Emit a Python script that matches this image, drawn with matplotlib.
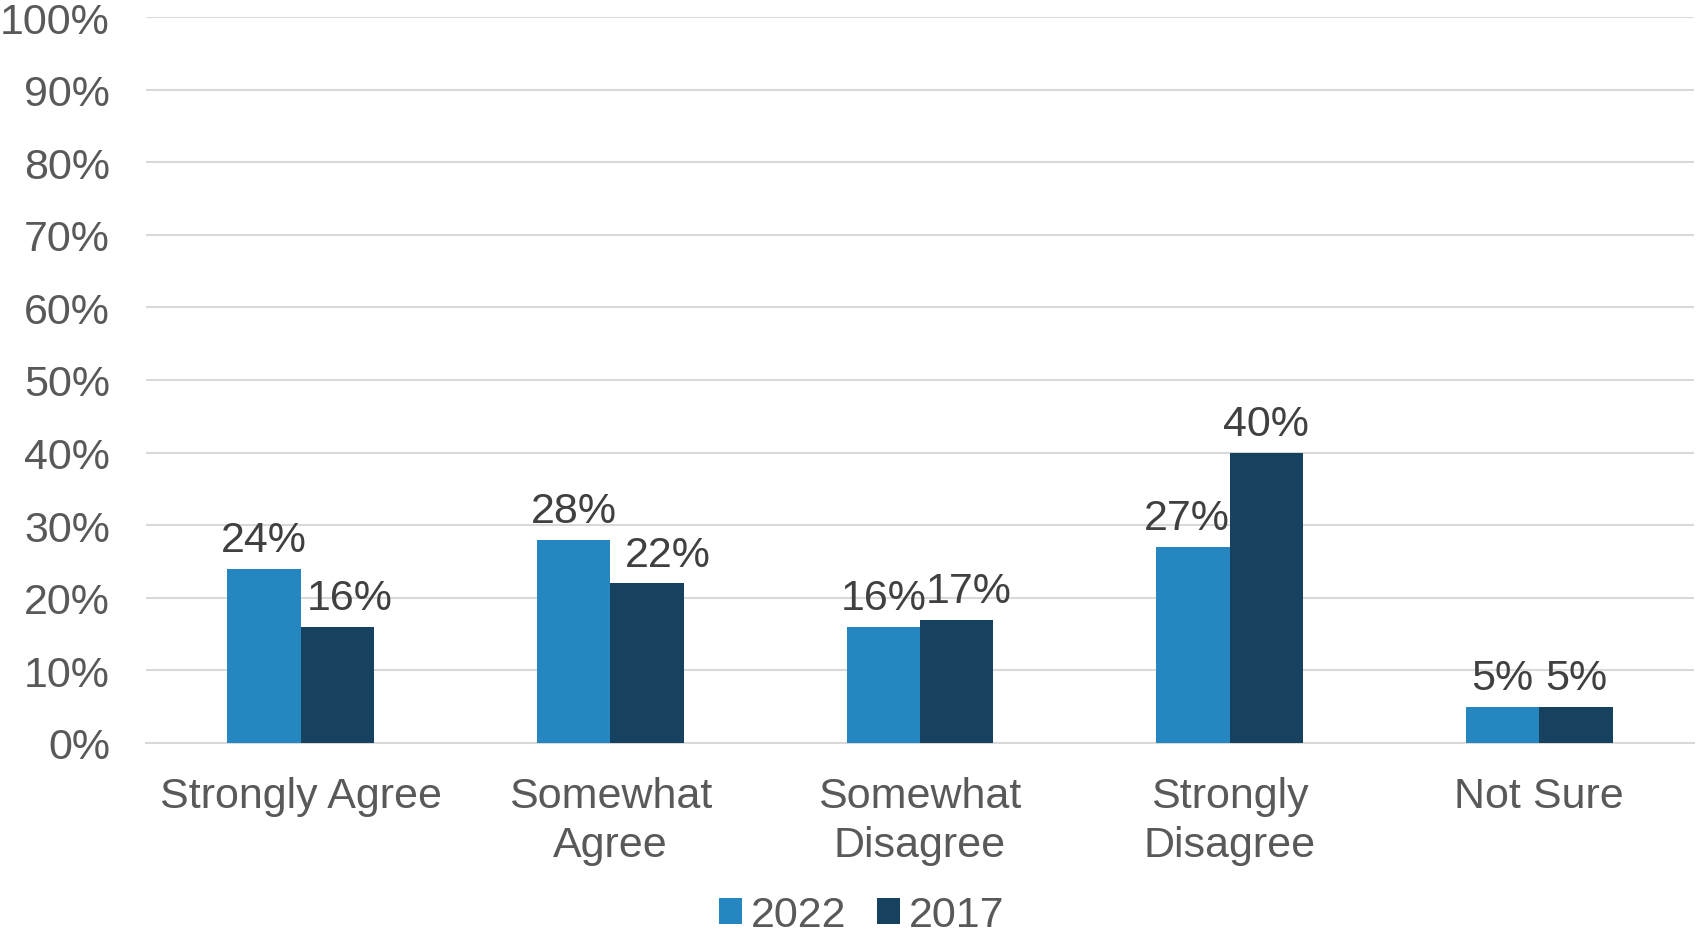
import matplotlib.pyplot as plt
import numpy as np

plt.rcParams['font.family'] = ['Liberation Sans', 'DejaVu Sans']

categories = ['Strongly Agree', 'Somewhat\nAgree', 'Somewhat\nDisagree', 'Strongly\nDisagree', 'Not Sure']
vals_2022 = [24, 28, 16, 27, 5]
vals_2017 = [16, 22, 17, 40, 5]
series_names = ['2022', '2017']
colors = ['#2586C0', '#16415F']

# small horizontal nudges of the data labels (as in the original, to avoid overlap)
nudge_2022 = [0, 0, 0, -0.02, 0]
nudge_2017 = [0.038, 0.066, 0.038, 0, 0]

fig = plt.figure(figsize=(16.96, 9.37), dpi=100)
ax = fig.add_axes([146 / 1696, 1 - 744 / 937, (1694 - 146) / 1696, (744 - 18) / 937])

x = np.arange(len(categories))
w = 0.237
b1 = ax.bar(x - w / 2, vals_2022, w, color=colors[0], label=series_names[0], zorder=3)
b2 = ax.bar(x + w / 2, vals_2017, w, color=colors[1], label=series_names[1], zorder=3)

for bars, nud in ((b1, nudge_2022), (b2, nudge_2017)):
    for r, dx in zip(bars, nud):
        ax.text(r.get_x() + r.get_width() / 2 + dx, r.get_height() + 1.2, '%d%%' % r.get_height(),
                ha='center', va='bottom', fontsize=31, color='#404040')

ax.set_xlim(-0.5, len(categories) - 0.5)
ax.set_ylim(0, 100)
ax.set_yticks(range(0, 101, 10))
ax.set_yticklabels(['%d%%' % v for v in range(0, 101, 10)])
ax.set_xticks(x)
ax.set_xticklabels(categories, linespacing=1.27)
ax.tick_params(axis='both', length=0, labelsize=31, labelcolor='#595959')
ax.tick_params(axis='y', pad=26)
ax.tick_params(axis='x', pad=24)
ax.grid(axis='y', color='#D9D9D9', linewidth=1.5, zorder=0)
for s in ['top', 'right', 'left']:
    ax.spines[s].set_visible(False)
ax.spines['bottom'].set_color('#D9D9D9')
ax.spines['bottom'].set_linewidth(1.5)

leg = fig.legend(loc='center', bbox_to_anchor=(0.508, 1 - 916 / 937), ncol=2, frameon=False,
                 fontsize=31, handlelength=0.55, handleheight=0.55, handletextpad=0.2,
                 columnspacing=0.7, labelcolor='#595959')

fig.savefig('out.png', dpi=100)
